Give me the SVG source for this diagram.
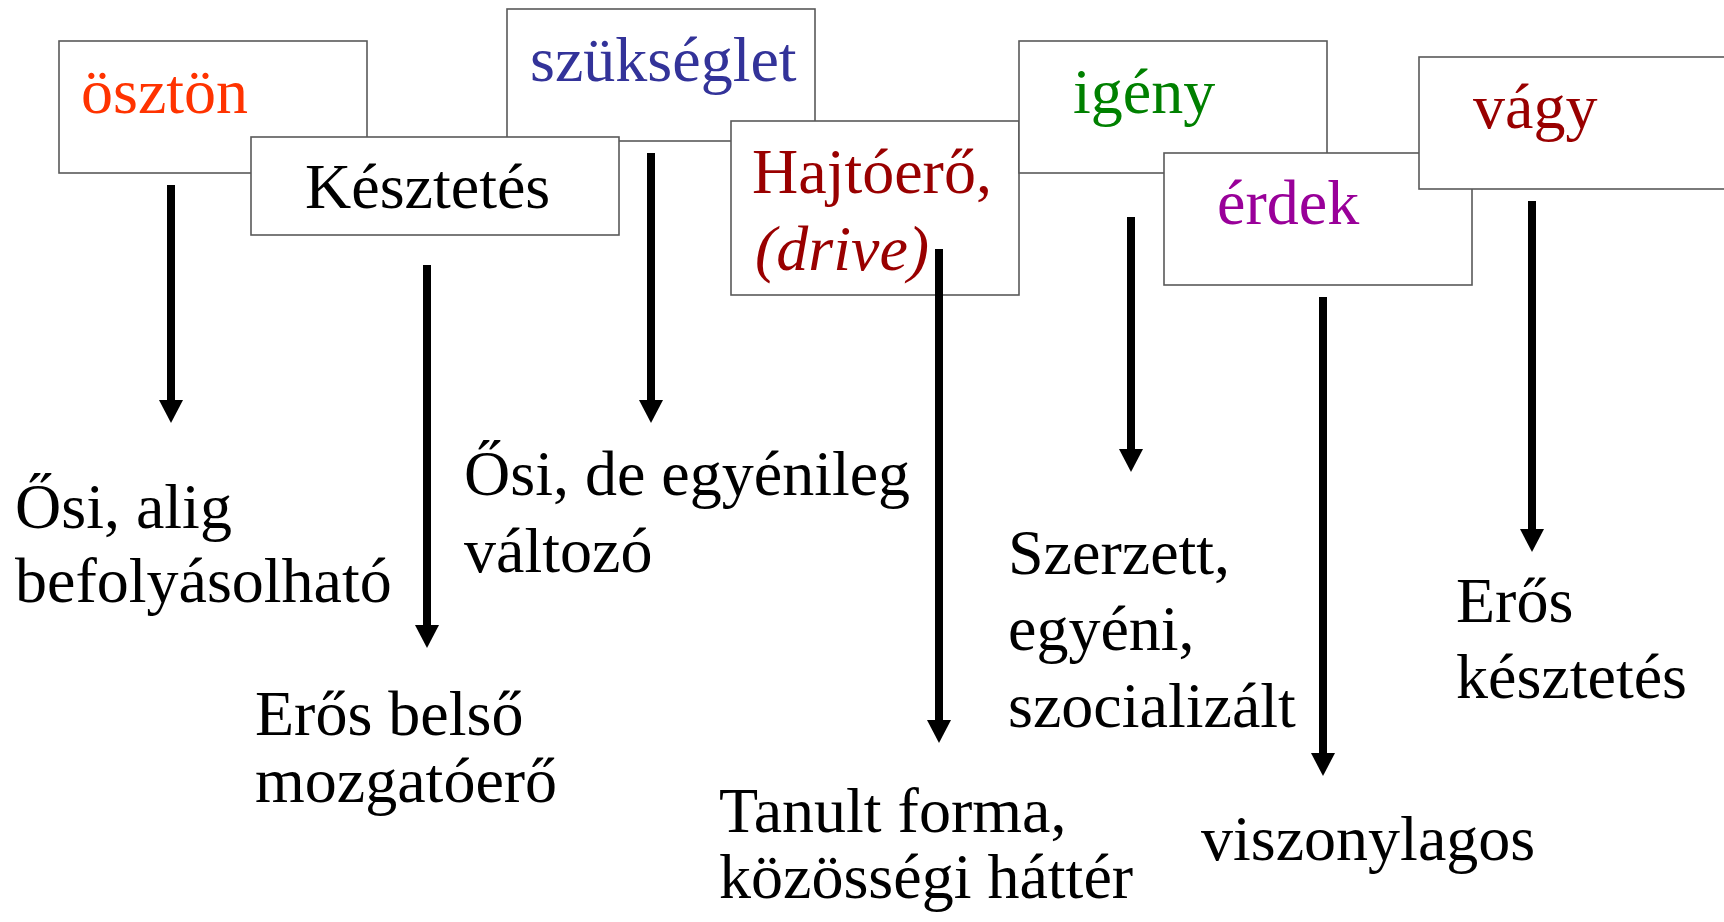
<svg xmlns="http://www.w3.org/2000/svg" width="1724" height="922" viewBox="0 0 1724 922">
<style>
.box{fill:#fff;stroke:#595959;stroke-width:1.6}
.t{font-family:"Liberation Serif","Times New Roman",serif;font-size:64px;fill:#000}
.arr{stroke:#000;stroke-width:8;fill:none;marker-end:url(#ah)}
</style>
<defs>
<marker id="ah" markerUnits="userSpaceOnUse" viewBox="0 0 23 24" markerWidth="23" markerHeight="24" refX="8" refY="12" orient="auto">
<path d="M0,0 L23,12 L0,24 Z" fill="#000"/>
</marker>
</defs>
<rect width="1724" height="922" fill="#fff"/>
<g id="osztont">
<rect class="box" x="59" y="41" width="308" height="132"/>
<text class="t" x="81" y="113" style="fill:#FF3300">ösztön</text>
</g>
<g id="szukseglet">
<rect class="box" x="507" y="9" width="308" height="132"/>
<text class="t" x="530" y="81" style="fill:#333399">szükséglet</text>
</g>
<g id="kesztetes">
<rect class="box" x="251" y="137" width="368" height="98"/>
<text class="t" x="305" y="208">Késztetés</text>
</g>
<g id="hajtoero">
<rect class="box" x="731" y="121" width="288" height="174"/>
<text class="t" x="752" y="193" style="fill:#990000">Hajtóerő,</text>
<text class="t" x="755" y="270" font-style="italic" style="fill:#990000">(drive)</text>
</g>
<g id="igeny">
<rect class="box" x="1019" y="41" width="308" height="132"/>
<text class="t" x="1073" y="113" style="fill:#008000">igény</text>
</g>
<g id="erdek">
<rect class="box" x="1164" y="153" width="308" height="132"/>
<text class="t" x="1217" y="224" style="fill:#990099">érdek</text>
</g>
<g id="vagy">
<rect class="box" x="1419" y="57" width="311" height="132"/>
<text class="t" x="1473" y="128" style="fill:#990000">vágy</text>
</g>
<g id="connectors">
<line class="arr" x1="171" y1="185" x2="171" y2="408"/>
<line class="arr" x1="427" y1="265" x2="427" y2="633"/>
<line class="arr" x1="651" y1="153" x2="651" y2="408"/>
<line class="arr" x1="939" y1="249" x2="939" y2="728"/>
<line class="arr" x1="1131" y1="217" x2="1131" y2="457"/>
<line class="arr" x1="1323" y1="297" x2="1323" y2="761"/>
<line class="arr" x1="1532" y1="201" x2="1532" y2="537"/>
</g>
<g id="labels">
<text class="t" x="15" y="528">Ősi, alig</text>
<text class="t" x="15" y="602">befolyásolható</text>
<text class="t" x="255" y="735">Erős belső</text>
<text class="t" x="255" y="802">mozgatóerő</text>
<text class="t" x="464" y="495">Ősi, de egyénileg</text>
<text class="t" x="464" y="572">változó</text>
<text class="t" x="719" y="832">Tanult forma,</text>
<text class="t" x="719" y="898">közösségi háttér</text>
<text class="t" x="1008" y="574">Szerzett,</text>
<text class="t" x="1008" y="650">egyéni,</text>
<text class="t" x="1008" y="727">szocializált</text>
<text class="t" x="1201" y="860">viszonylagos</text>
<text class="t" x="1456" y="622">Erős</text>
<text class="t" x="1456" y="698">késztetés</text>
</g>
</svg>
